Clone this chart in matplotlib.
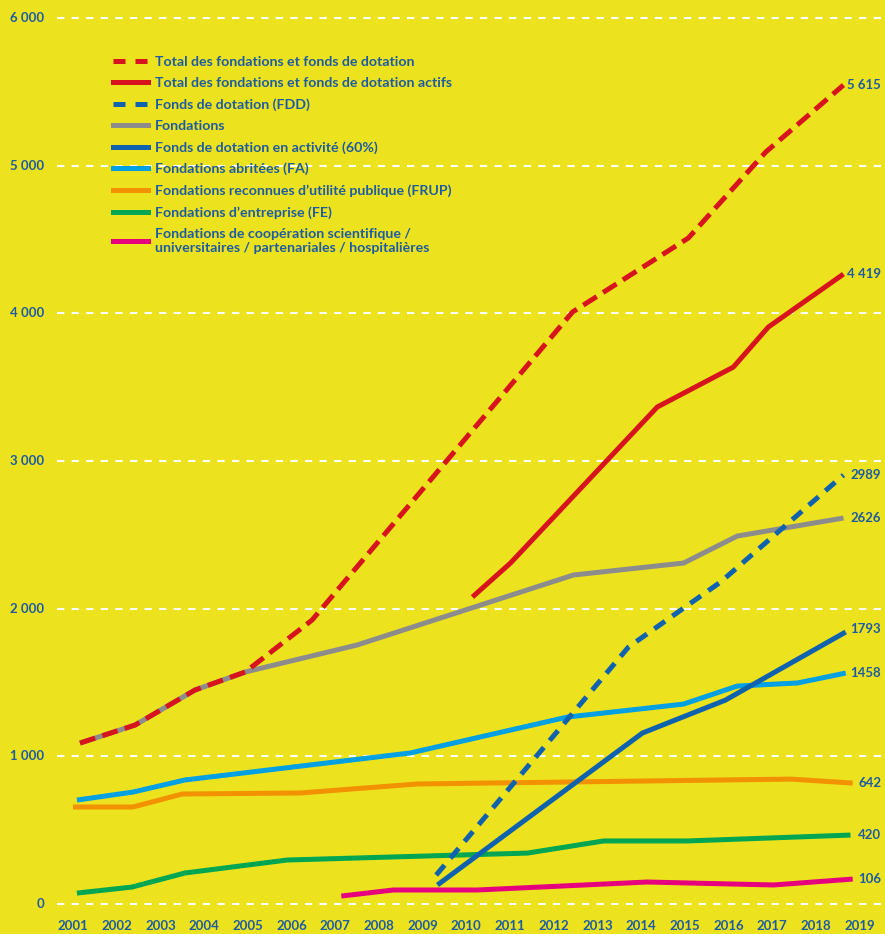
import matplotlib.pyplot as plt
from matplotlib.lines import Line2D

plt.rcParams['font.family'] = ['Lato', 'DejaVu Sans']
plt.rcParams['font.weight'] = 'bold'

# years (positions as drawn, slightly off the ticks) and values
total_x = [2001.16, 2002.42, 2003.79, 2004.94, 2006.47, 2012.43, 2015.08, 2016.85, 2018.63]
total_y = [1090, 1212, 1449, 1571, 1923, 4009, 4510, 5092, 5546]

actifs_x = [2010.14, 2011.01, 2014.37, 2016.11, 2016.91, 2018.63]
actifs_y = [2079, 2309, 3366, 3636, 3907, 4266]

fdd_x = [2009.31, 2013.71, 2015.82, 2018.63]
fdd_y = [196, 1740, 2181, 2905]

fondations_x = [2001.16, 2002.42, 2003.79, 2004.94, 2007.50, 2012.45, 2014.97, 2016.20, 2018.63]
fondations_y = [1090, 1212, 1449, 1571, 1754, 2228, 2309, 2492, 2614]

fdd_actifs_x = [2009.34, 2014.03, 2015.93, 2018.68]
fdd_actifs_y = [129, 1158, 1381, 1842]

fa_x = [2001.09, 2002.37, 2003.56, 2008.72, 2012.31, 2014.97, 2016.20, 2017.58, 2018.68]
fa_y = [704, 758, 840, 1023, 1266, 1354, 1476, 1497, 1564]

frup_x = [2001.00, 2002.37, 2003.50, 2006.20, 2008.88, 2017.42, 2018.84]
frup_y = [657, 657, 745, 752, 813, 846, 819]

fe_x = [2001.09, 2002.35, 2003.56, 2005.90, 2011.40, 2013.14, 2015.06, 2018.79]
fe_y = [74, 115, 210, 298, 345, 427, 427, 467]

fcs_x = [2007.14, 2008.33, 2010.25, 2014.14, 2017.03, 2018.84]
fcs_y = [54, 95, 95, 149, 129, 169]

end_labels = ['5 615', '4 419', '2989', '2626', '1793', '1458', '642', '420', '106']
end_label_y = [5546, 4266, 2905, 2614, 1860, 1564, 819, 467, 169]

years = list(range(2001, 2020))
yticks = [0, 1000, 2000, 3000, 4000, 5000, 6000]
ytick_labels = ['0', '1 000', '2 000', '3 000', '4 000', '5 000', '6 000']

labels = [
    'Total des fondations et fonds de dotation',
    'Total des fondations et fonds de dotation actifs',
    'Fonds de dotation (FDD)',
    'Fondations',
    'Fonds de dotation en activité (60%)',
    'Fondations abritées (FA)',
    "Fondations reconnues d\u2019utilité publique (FRUP)",
    "Fondations d\u2019entreprise (FE)",
    'Fondations de coopération scientifique /\nuniversitaires / partenariales / hospitalières',
]

bg = '#EDE21E'
red = '#D7141D'
grey = '#8C8C8C'
dblue = '#0F62AE'
lblue = '#00A0E3'
orange = '#F39200'
green = '#00A651'
pink = '#E6007E'
txt = '#1D5CA3'

fig = plt.figure(figsize=(8.85, 9.34), dpi=100)
fig.patch.set_facecolor(bg)
ax = fig.add_axes([0, 0, 1, 1])
ax.set_facecolor(bg)
ax.set_xlim(1999.33, 2019.58)
ax.set_ylim(-203, 6122)
ax.axis('off')

# dashed white gridlines
for v, t in zip(yticks, ytick_labels):
    ax.plot([2000.63, 2019.58], [v, v], color='white', lw=1.5, dashes=(3.5, 3.5), zorder=1)
    ax.text(2000.34, v, t, ha='right', va='center', fontsize=9.5, color=txt)

for y in years:
    ax.text(y, -150, str(y), ha='center', va='center', fontsize=9.5, color=txt)

lw = 3.6
ax.plot(fcs_x, fcs_y, color=pink, lw=lw, solid_capstyle='butt', zorder=2)
ax.plot(fe_x, fe_y, color=green, lw=lw, solid_capstyle='butt', zorder=2)
ax.plot(frup_x, frup_y, color=orange, lw=lw, solid_capstyle='butt', zorder=2)
ax.plot(fa_x, fa_y, color=lblue, lw=lw, solid_capstyle='butt', zorder=3)
ax.plot(fdd_actifs_x, fdd_actifs_y, color=dblue, lw=lw, solid_capstyle='butt', zorder=4)
ax.plot(fondations_x, fondations_y, color=grey, lw=lw, solid_capstyle='butt', zorder=3)
ax.plot(fdd_x, fdd_y, color=dblue, lw=lw, dashes=(2.6, 1.8), zorder=5)
ax.plot(actifs_x, actifs_y, color=red, lw=lw, solid_capstyle='butt', zorder=5)
ax.plot(total_x, total_y, color=red, lw=lw, dashes=(3.2, 1.5), zorder=6)

for lab, v in zip(end_labels, end_label_y):
    ax.text(2019.49, v, lab, ha='right', va='center', fontsize=9.5, color=txt)

handles = [
    Line2D([], [], color=red, lw=lw, dashes=(2.4, 2.0)),
    Line2D([], [], color=red, lw=lw),
    Line2D([], [], color=dblue, lw=lw, dashes=(2.4, 2.0)),
    Line2D([], [], color=grey, lw=lw),
    Line2D([], [], color=dblue, lw=lw),
    Line2D([], [], color=lblue, lw=lw),
    Line2D([], [], color=orange, lw=lw),
    Line2D([], [], color=green, lw=lw),
    Line2D([], [], color=pink, lw=lw),
]
leg = ax.legend(handles, labels, loc='upper left', bbox_to_anchor=(113 / 885, 1 - 56 / 934),
                frameon=False, fontsize=10.2, labelcolor=txt, handlelength=2.45,
                handletextpad=0.5, labelspacing=0.64, borderpad=0, borderaxespad=0)

fig.savefig('out.png', dpi=100, facecolor=bg)
